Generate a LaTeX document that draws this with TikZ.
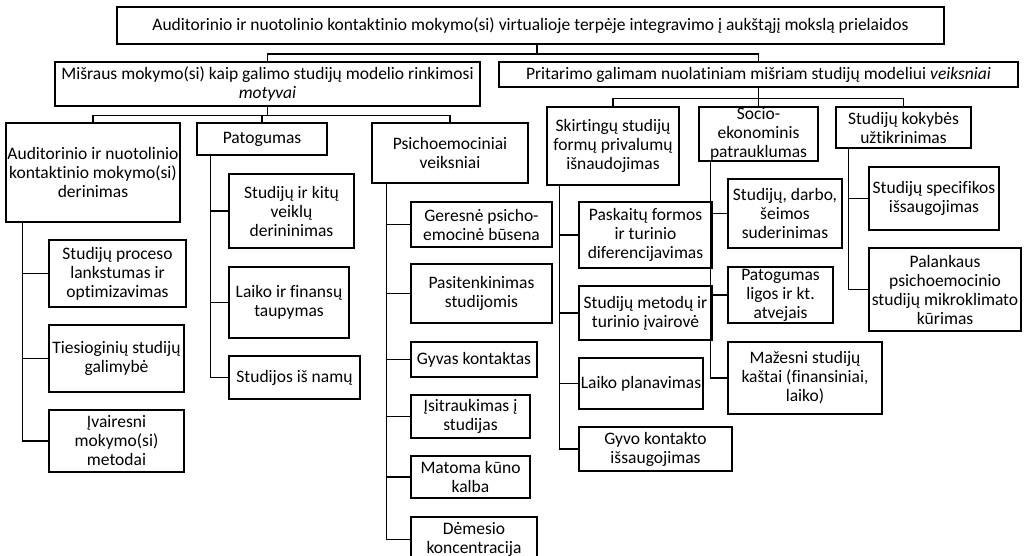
\documentclass[tikz,border=0pt]{standalone}
\usepackage{fontspec}
\setmainfont{Carlito}[Ligatures=NoCommon]

\begin{document}
\begin{tikzpicture}[x=1pt,y=-1pt,
		block/.style={draw,line width=1.3pt,align=center,inner sep=0.5pt,font=\fontsize{17.5}{19}\selectfont},
		link/.style={line width=1.3pt}]
		\useasboundingbox (0,0) rectangle (1028,556);
		\node[block,minimum width=827,minimum height=37] (top) at (530.5,25.5) {Auditorinio ir nuotolinio kontaktinio mokymo(si) virtualioje terpėje integravimo į aukštąjį mokslą prielaidos};
		\node[block,minimum width=425,minimum height=44] (mot) at (267.5,84) {Mišraus mokymo(si) kaip galimo studijų modelio rinkimosi\\\textit{motyvai}};
		\node[block,minimum width=519,minimum height=25] (ver) at (758.5,74.5) {Pritarimo galimam nuolatiniam mišriam studijų modeliui \textit{veiksniai}};
		\node[block,minimum width=174,minimum height=99] (a1) at (93,172.5) {Auditorinio ir nuotolinio\\kontaktinio mokymo(si)\\derinimas};
		\node[block,minimum width=130,minimum height=32] (a2) at (262,139) {Patogumas};
		\node[block,minimum width=156,minimum height=60] (a3) at (450,153) {Psichoemociniai\\veiksniai};
		\node[block,minimum width=137,minimum height=67] (a1a) at (117.5,273.5) {Studijų proceso\\lankstumas ir\\optimizavimas};
		\node[block,minimum width=135,minimum height=67] (a1b) at (116.5,358.5) {Tiesioginių studijų\\galimybė};
		\node[block,minimum width=135,minimum height=62] (a1c) at (116.5,441) {Įvairesni\\mokymo(si)\\metodai};
		\node[block,minimum width=125,minimum height=74] (a2a) at (291.5,211) {Studijų ir kitų\\veiklų\\derininimas};
		\node[block,minimum width=120,minimum height=71] (a2b) at (289,302.5) {Laiko ir finansų\\taupymas};
		\node[block,minimum width=131,minimum height=43] (a2c) at (294.5,377.5) {Studijos iš namų};
		\node[block,minimum width=141,minimum height=45] (a3a) at (481.5,224.5) {Geresnė psicho-\\emocinė būsena};
		\node[block,minimum width=141,minimum height=59] (a3b) at (481.5,293.5) {Pasitenkinimas\\studijomis};
		\node[block,minimum width=126,minimum height=35] (a3c) at (474,359.5) {Gyvas kontaktas};
		\node[block,minimum width=119,minimum height=43] (a3d) at (470.5,416.5) {Įsitraukimas į\\studijas};
		\node[block,minimum width=119,minimum height=42] (a3e) at (470.5,477) {Matoma kūno\\kalba};
		\node[block,minimum width=126,minimum height=45] (a3f) at (474,539.5) {Dėmesio\\koncentracija};
		\node[block,minimum width=132,minimum height=78] (b1) at (613,146) {Skirtingų studijų\\formų privalumų\\išnaudojimas};
		\node[block,minimum width=119,minimum height=54,inner ysep=0pt] (b2) at (758.5,134) {Socio-\\ekonominis\\patrauklumas};
		\node[block,minimum width=135,minimum height=41] (b3) at (903.5,127.5) {Studijų kokybės\\užtikrinimas};
		\node[block,minimum width=133,minimum height=66] (b1a) at (645.5,235) {Paskaitų formos\\ir turinio\\diferencijavimas};
		\node[block,minimum width=133,minimum height=54] (b1b) at (645.5,313) {Studijų metodų ir\\turinio įvairovė};
		\node[block,minimum width=124,minimum height=51] (b1c) at (641,383.5) {Laiko planavimas};
		\node[block,minimum width=153,minimum height=44] (b1d) at (655.5,449) {Gyvo kontakto\\išsaugojimas};
		\node[block,minimum width=114,minimum height=69] (b2a) at (785,213.5) {Studijų, darbo,\\šeimos\\suderinimas};
		\node[block,minimum width=105,minimum height=56] (b2b) at (780.5,295) {Patogumas\\ligos ir kt.\\atvejais};
		\node[block,minimum width=154,minimum height=72] (b2c) at (805,378) {Mažesni studijų\\kaštai (finansiniai,\\laiko)};
		\node[block,minimum width=130,minimum height=63] (b3a) at (934,198.5) {Studijų specifikos\\išsaugojimas};
		\node[block,minimum width=152,minimum height=83] (b3b) at (945,289.5) {Palankaus\\psichoemocinio\\studijų mikroklimato\\kūrimas};
		\coordinate (j0) at (537,54);
		\draw[link] (top.south -| j0) -- (j0);
		\draw[link] (mot.north) |- (j0) -| (ver.north);
		\draw[link] (mot.south) -- ++(0,9) coordinate (j1);
		\draw[link] (a1.north) |- (j1) -| (a3.north);
		\draw[link] (a2.north) -- (a2.north |- j1);
		\draw[link] (ver.south) -- ++(0,11) coordinate (j2);
		\draw[link] (b1.north) |- (j2) -| (b3.north);
		\draw[link] (b2.north) -- (b2.north |- j2);
		\foreach \c in {a1a,a1b,a1c} \draw[link] ([xshift=17pt]a1.south west) |- (\c.west);
		\foreach \c in {a2a,a2b,a2c} \draw[link] ([xshift=14pt]a2.south west) |- (\c.west);
		\foreach \c in {a3a,a3b,a3c,a3d,a3e,a3f} \draw[link] ([xshift=15pt]a3.south west) |- (\c.west);
		\foreach \c in {b1a,b1b,b1c,b1d} \draw[link] ([xshift=13pt]b1.south west) |- (\c.west);
		\foreach \c in {b2a,b2b,b2c} \draw[link] ([xshift=12pt]b2.south west) |- (\c.west);
		\foreach \c in {b3a,b3b} \draw[link] ([xshift=13pt]b3.south west) |- (\c.west);
	\end{tikzpicture}
\end{document}
